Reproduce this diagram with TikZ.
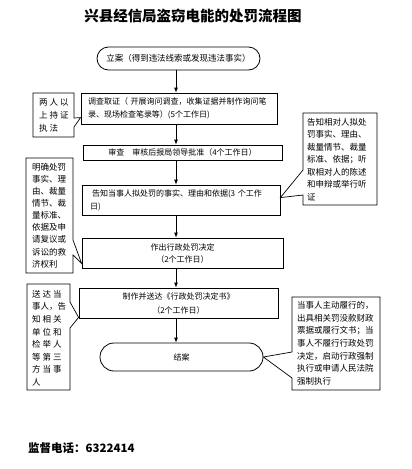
\documentclass[tikz,border=0pt]{standalone}
\usepackage{fontspec}
\setmainfont{Noto Sans CJK SC}
\usetikzlibrary{arrows.meta,calc}
\newcommand\bodyfont{\fontsize{8}{13}\selectfont}
\tikzset{
  box/.style={draw, line width=0.8pt, inner sep=0pt, font=\bodyfont, align=center},
  term/.style={draw, line width=0.8pt, inner sep=0pt, font=\bodyfont},
  arr/.style={-{Latex[length=5pt,width=4pt]}, line width=0.8pt},
  co/.style={draw, line width=0.7pt, fill=white, line join=miter},
  cotext/.style={inner sep=0pt, align=left, anchor=north west},
}
\begin{document}
\begin{tikzpicture}[x=1pt,y=-1pt]
\useasboundingbox (0,0) rectangle (412,469);
\fill[white] (0,0) rectangle (412,469);

% title
\node[font=\fontsize{14.5}{16}\selectfont\bfseries] (title) at (193,16) {兴县经信局盗窃电能的处罚流程图};

% main flow
\node[term, minimum width=163, minimum height=23, rounded corners=11.5, font=\fontsize{8.5}{10}\selectfont] (start) at (178.5,58.5) {立案（得到违法线索或发现违法事实）};
\node[box, minimum width=196, minimum height=31, text width=182, align=left] (b1) at (179,108.5) {调查取证（ 开展询问调查，收集证据并制作询问笔\\录、现场检查笔录等）(5个工作日)};
\node[box, minimum width=199, minimum height=15] (b2) at (182.5,152.5) {审查\hspace{8pt}审核后报局领导批准（4个工作日）};
\node[box, minimum width=198, minimum height=30, text width=182, align=left] (b3) at (181,200) {\hspace{2pt}告知当事人拟处罚的事实、理由和依据(3 个工作\\日)};
\node[box, minimum width=201, minimum height=30, font=\fontsize{8}{12}\selectfont] (b4) at (182.5,253) {作出行政处罚决定\\（2个工作日）};
\node[box, minimum width=199, minimum height=30, font=\fontsize{8}{14}\selectfont] (b5) at (178.5,303) {制作并送达《行政处罚决定书》\\（2个工作日）};
\node[term, minimum width=163, minimum height=28, rounded corners=14] (end) at (181.5,357) {结案};

\coordinate (sp) at (176,0);
\draw[arr] (start.south -| sp) -- (b1.north -| sp);
\draw[arr] (b1.south -| sp) -- (b2.north -| sp);
\draw[arr] (b2.south -| sp) -- (b3.north -| sp);
\draw[arr] (b3.south -| sp) -- (b4.north -| sp);
\draw[arr] (b4.south -| sp) -- (b5.north -| sp);
\draw[arr] (b5.south -| sp) -- (end.north -| sp);

% callout L1
\coordinate (tL1) at ($(b1.north west)+(0,25)$);
\draw[co] (33,93) -- (74,93) -- (74,118) -- (tL1) -- (74,127) -- (74,137) -- (33,137) -- cycle;
\node[cotext, font=\fontsize{8.5}{13}\selectfont] (xL1) at (39,98) {两 人 以\\上 持 证\\执 法};

% callout L2
\coordinate (tL2) at ($(b4.south west)+(0,-5)$);
\draw[co] (26,158) -- (73,158) -- (73,240) -- (tL2) -- (73,255) -- (73,273) -- (26,273) -- cycle;
\node[cotext, font=\fontsize{8.5}{12.1}\selectfont] (xL2) at (32,163) {明确处罚\\事实、理\\由、裁量\\情节、裁\\量标准、\\依据及申\\请复议或\\诉讼的救\\济权利};

% callout L3
\coordinate (tL3) at ($(b5.south west)+(0,-1)$);
\draw[co] (27,284) -- (70,284) -- (70,302) -- (tL3) -- (70,328) -- (70,390) -- (27,390) -- cycle;
\node[cotext, font=\fontsize{8.5}{12.6}\selectfont] (xL3) at (32,290) {送 达 当\\事人，告\\知 相 关\\单 位 和\\检 举 人\\等 第 三\\方 当 事\\人};

% callout R1
\coordinate (tR1) at ($(b3.north east)+(0,13)$);
\draw[co] (303,113) -- (377,113) -- (377,205) -- (303,205) -- (303,195) -- (tR1) -- (303,170) -- cycle;
\node[cotext, font=\fontsize{8.5}{12.5}\selectfont] (xR1) at (307,118) {告知相对人拟处\\罚事实、理由、\\裁量情节、裁量\\标准、依据；听\\取相对人的陈述\\和申辩或举行听\\证};

% callout R2
\draw[co] (292,297) -- (380,297) -- (380,390) -- (292,390) -- (292,378) -- (end.east) -- (292,352) -- cycle;
\node[cotext, font=\fontsize{8.5}{12.7}\selectfont] (xR2) at (297,301) {当事人主动履行的，\\出具相关罚没款财政\\票据或履行文书；当\\事人不履行行政处罚\\决定，启动行政强制\\执行或申请人民法院\\强制执行};

% bottom
\node[anchor=west, inner sep=0pt, font=\fontsize{11.5}{14}\selectfont\bfseries] (tel) at (28,448) {监督电话：6322414};
\end{tikzpicture}
\end{document}
